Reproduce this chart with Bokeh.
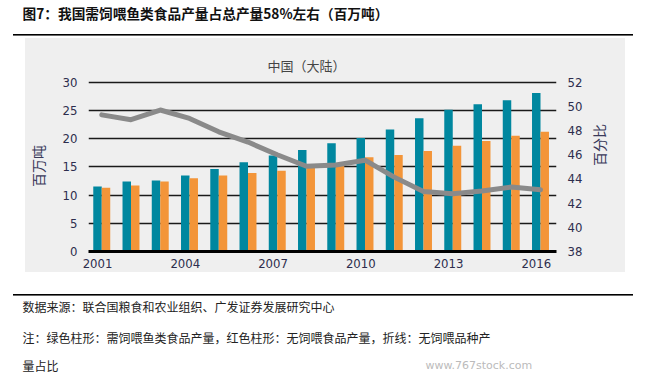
import math
from bokeh.plotting import figure
from bokeh.models import (Range1d, LinearAxis, FixedTicker, CustomJSTickFormatter,
                          Title, ColumnDataSource)
from bokeh.embed import file_html
from bokeh.resources import INLINE

# ---------------- data ----------------
years = list(range(2001, 2017))
fed_fish = [11.5, 12.4, 12.6, 13.45, 14.6, 15.8, 17.0, 18.0, 19.2, 20.1, 21.6, 23.6, 25.1, 26.1, 26.8, 28.1]
non_fed = [11.3, 11.7, 12.4, 13.0, 13.45, 13.9, 14.3, 15.2, 15.3, 16.7, 17.1, 17.8, 18.75, 19.6, 20.5, 21.2]
non_fed_share = [49.3, 48.9, 49.7, 49.0, 47.9, 47.05, 46.0, 45.05, 45.15, 45.55, 44.15, 42.97, 42.78, 43.0, 43.33, 43.1]
tick_years = [2001, 2004, 2007, 2010, 2013, 2016]
left_ticks = [0, 5, 10, 15, 20, 25, 30]
right_ticks = [38, 40, 42, 44, 46, 48, 50, 52]

title_text = "图7：我国需饲喂鱼类食品产量占总产量58%左右（百万吨）"
subtitle_text = "中国（大陆）"
left_label = "百万吨"
right_label = "百分比"
source_text = "数据来源：联合国粮食和农业组织、广发证券发展研究中心"
note_text1 = "注：绿色柱形：需饲喂鱼类食品产量，红色柱形：无饲喂食品产量，折线：无饲喂品种产"
note_text2 = "量占比"
watermark = "www.767stock.com"

CJK = "'Noto Sans CJK SC', sans-serif"
NUM = "'Liberation Sans Narrow', 'DejaVu Sans Condensed', sans-serif"
TEAL = "#00879f"
ORANGE = "#f39539"
PANEL = "#efefef"
LABEL_C = "#2d2d4d"

OFF = 0.145
W, H = 652, 375
FL, FR, FT, FB = 88, 556, 80, 251          # frame edges in page pixels
X0, X1 = 2000.547, 2016.547
Y0, Y1 = 0, 30.3
R0 = right_ticks[0]
R1 = R0 + (Y1 - Y0) * (right_ticks[-1] - right_ticks[0]) / (left_ticks[-1] - left_ticks[0])

p = figure(width=W, height=H, output_backend="svg", toolbar_location=None,
           title_location=None,
           x_range=Range1d(X0, X1), y_range=Range1d(Y0, Y1),
           min_border_left=FL, min_border_right=W - FR,
           min_border_top=FT, min_border_bottom=H - FB)
p.background_fill_color = PANEL
p.border_fill_color = None
p.outline_line_color = None
p.extra_y_ranges = {"pct": Range1d(R0, R1)}
p.grid.visible = False

# grey panel and the two black rules, painted behind the (transparent) canvas border
p.styles = {
    "background": (
        "linear-gradient(#000, #000) 13px 33.5px / 620px 1.6px no-repeat, "
        "linear-gradient(#000, #000) 13px 293.5px / 620px 1.6px no-repeat, "
        "linear-gradient(#efefef, #efefef) 25px 38px / 600px 234px no-repeat, "
        "#ffffff"
    )
}

src = ColumnDataSource(dict(
    teal_x=[y - OFF for y in years], orange_x=[y + OFF for y in years],
    year=years, fed=fed_fish, nonfed=non_fed, share=non_fed_share))

# horizontal grid lines
p.hspan(y=left_ticks[1:], line_color="#1a1a1a", line_width=1.3)

p.vbar(x="teal_x", top="fed", width=0.29, bottom=0, source=src,
       fill_color=TEAL, line_color=None)
p.vbar(x="orange_x", top="nonfed", width=0.29, bottom=0, source=src,
       fill_color=ORANGE, line_color=None)
p.line(x="year", y="share", source=src, y_range_name="pct",
       line_color="#8a8a8a", line_width=5, line_join="round", line_cap="round")

# x axis
xa = p.xaxis[0]
xa.ticker = FixedTicker(ticks=[y - OFF for y in tick_years])
xa.formatter = CustomJSTickFormatter(code="return Math.round(tick).toFixed(0);")
xa.axis_line_color = "black"
xa.axis_line_width = 3
xa.major_tick_line_color = None
xa.minor_tick_line_color = None
xa.major_label_standoff = 1
xa.major_label_text_font = NUM
xa.major_label_text_font_size = "13px"
xa.major_label_text_color = LABEL_C

# left axis
ya = p.yaxis[0]
ya.ticker = FixedTicker(ticks=left_ticks)
ya.axis_line_color = None
ya.major_tick_line_color = None
ya.minor_tick_line_color = None
ya.major_label_standoff = 5
ya.major_label_text_font = NUM
ya.major_label_text_font_size = "13px"
ya.major_label_text_color = LABEL_C
ya.axis_label = left_label
ya.axis_label_text_font = CJK
ya.axis_label_text_font_size = "14px"
ya.axis_label_text_font_style = "normal"
ya.axis_label_text_color = "#3a3a5a"
ya.axis_label_standoff = 12

# right axis
ra = LinearAxis(y_range_name="pct", ticker=FixedTicker(ticks=right_ticks))
ra.axis_line_color = None
ra.major_tick_line_color = None
ra.minor_tick_line_color = None
ra.major_label_standoff = 5
ra.major_label_text_font = NUM
ra.major_label_text_font_size = "13px"
ra.major_label_text_color = LABEL_C
ra.axis_label = right_label
ra.axis_label_text_font = CJK
ra.axis_label_text_font_size = "14px"
ra.axis_label_text_font_style = "normal"
ra.axis_label_text_color = "#3a3a5a"
ra.axis_label_standoff = 14
if "axis_label_orientation" in ra.properties():
    ra.axis_label_orientation = math.pi / 2
    ra.axis_label_text_align = "center"
    ra.axis_label_text_baseline = "middle"
p.add_layout(ra, "right")


def title(text, size, offset, standoff, color="#222222", bold=False, font=CJK):
    return Title(text=text, align="left", offset=offset, standoff=standoff,
                 text_font=font, text_font_size=size,
                 text_font_style="bold" if bold else "normal",
                 text_color=color, vertical_align="bottom")


def gap(standoff):
    # invisible spacer line used to set the vertical distance between stacked texts
    return title(" ", "12px", 0, standoff)


# above: nearest the frame first
p.add_layout(title(subtitle_text, "13px", 267 - FL, 12, color="#444444"), "above")
p.add_layout(gap(6), "above")
p.add_layout(title(title_text, "13.7px", 22 - FL, 0, color="#111111", bold=True), "above")

# below: after the x axis
p.add_layout(gap(6), "below")
p.add_layout(title(source_text, "12px", 22 - FL, 0), "below")
p.add_layout(gap(-7), "below")
p.add_layout(title(note_text1, "12px", 22 - FL, 0), "below")
p.add_layout(gap(-10), "below")
# zero-height box: its text hangs below the box, on the same line as note_text2
p.add_layout(title(watermark, "11px", 425 - FL, -35, color="#bbbbbb",
                   font="'DejaVu Sans', sans-serif"), "below")
p.add_layout(title(note_text2, "12px", 22 - FL, 0), "below")

open("out.html", "w").write(file_html(p, INLINE))
